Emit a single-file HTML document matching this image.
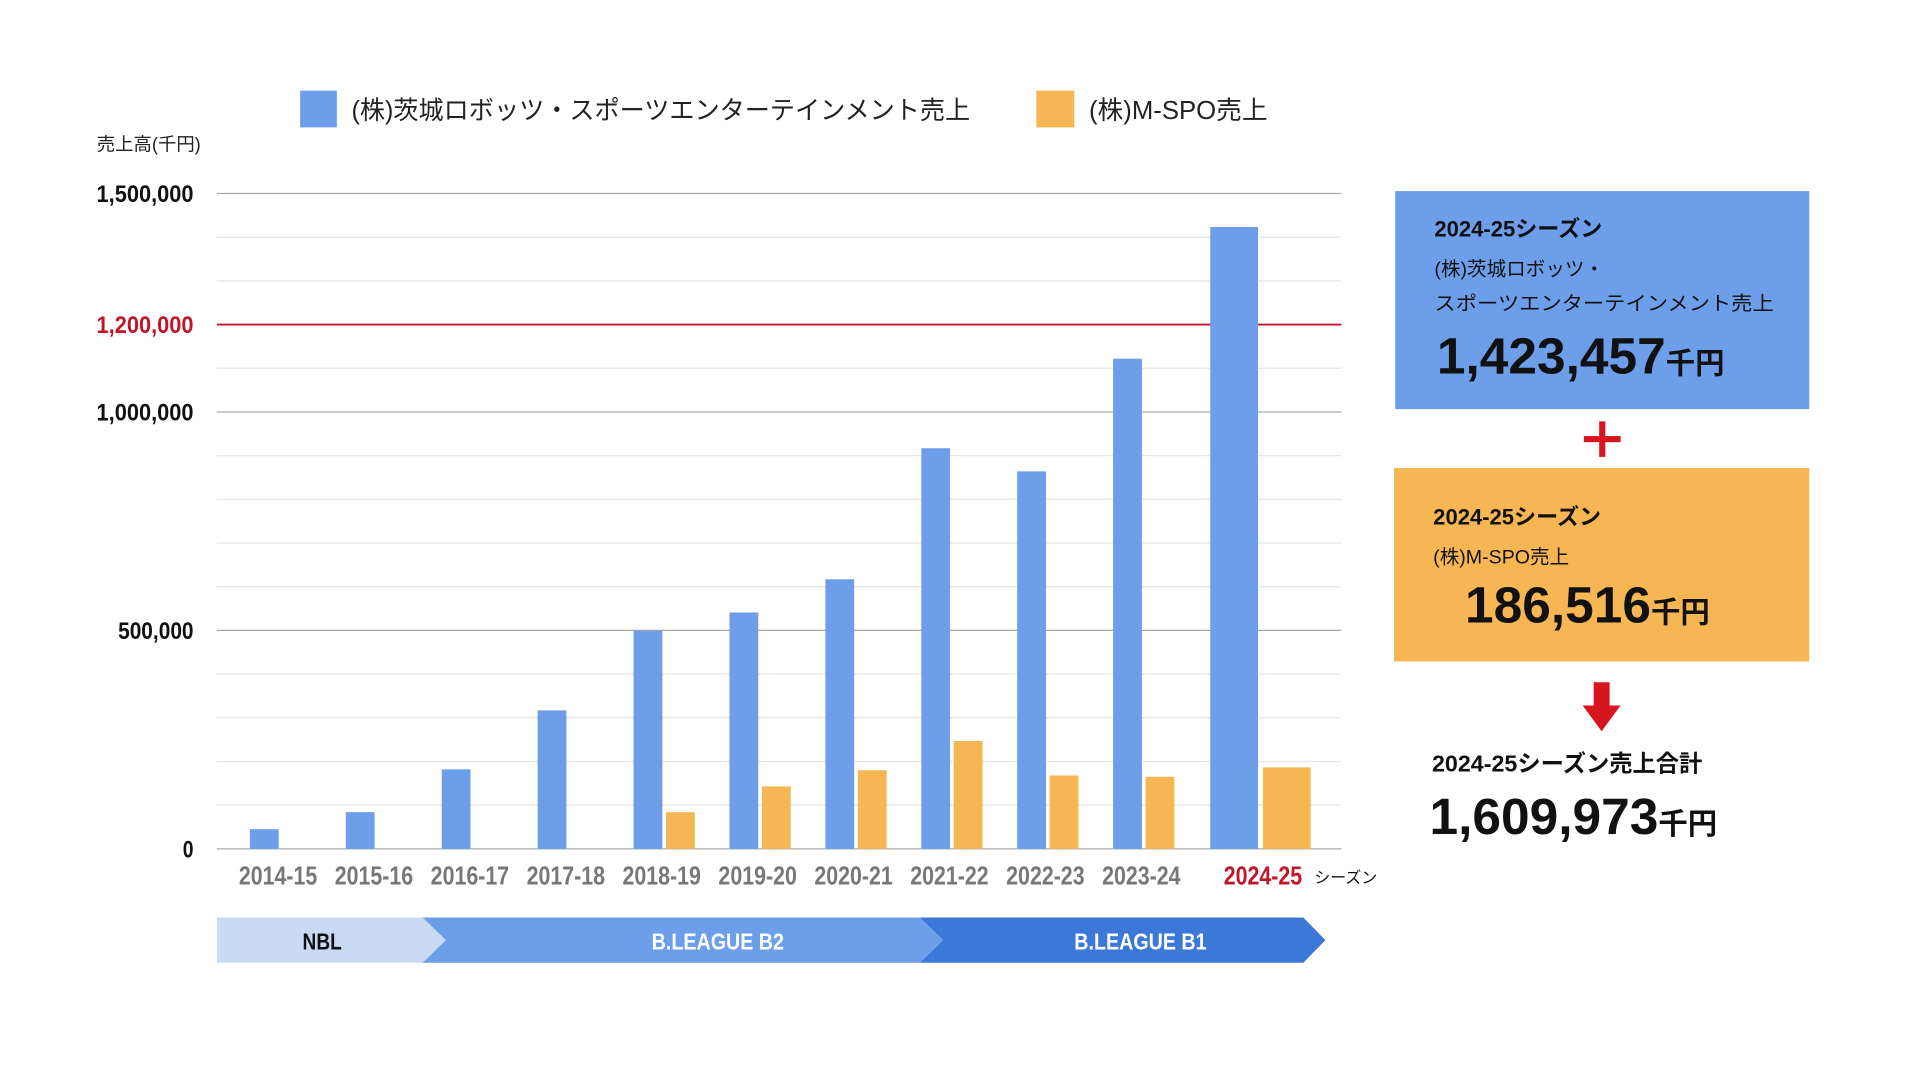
<!DOCTYPE html>
<html><head><meta charset="utf-8">
<style>
html,body{margin:0;padding:0;background:#fff;width:1920px;height:1080px;overflow:hidden}
svg{display:block}
.jp{font-family:"Liberation Sans","Noto Sans CJK JP",sans-serif}
.num{font-family:"Liberation Sans Narrow","Liberation Sans","Noto Sans CJK JP",sans-serif;font-weight:bold}
</style></head>
<body>
<svg id="chart" width="1920" height="1080" viewBox="0 0 1567.4 881.7" preserveAspectRatio="none" xmlns="http://www.w3.org/2000/svg">
<g>
 <rect x="245" y="74" width="30" height="30" fill="#6d9eea"/>
 <text class="jp" x="287" y="97" font-size="21" fill="#222" textLength="505" lengthAdjust="spacingAndGlyphs">(株)茨城ロボッツ・スポーツエンターテインメント売上</text>
 <rect x="846" y="74" width="31" height="30" fill="#f6b654"/>
 <text class="jp" x="889" y="97" font-size="21" fill="#222">(株)M-SPO売上</text>
</g>
<text class="jp" x="79" y="123" font-size="15" fill="#222">売上高(千円)</text>
<g id="grid"></g>
<g id="yticks"></g>
<g id="bars"></g>
<g id="xticks"></g>
<text class="jp" x="1073" y="721" font-size="13" fill="#111">シーズン</text>
<g>
 <polygon points="177,749 345,749 364,767.5 345,786 177,786" fill="#c9daf5"/>
 <polygon points="345,749 751,749 770,767.5 751,786 345,786 364,767.5" fill="#6d9eea"/>
 <polygon points="751,749 1064,749 1082,767.5 1064,786 751,786 770,767.5" fill="#3c78d8"/>
 <text class="num" x="263" y="775" font-size="19" text-anchor="middle" fill="#111" textLength="32" lengthAdjust="spacingAndGlyphs">NBL</text>
 <text class="num" x="586" y="775" font-size="19" text-anchor="middle" fill="#fff" textLength="108" lengthAdjust="spacingAndGlyphs">B.LEAGUE  B2</text>
 <text class="num" x="931" y="775" font-size="19" text-anchor="middle" fill="#fff" textLength="108" lengthAdjust="spacingAndGlyphs">B.LEAGUE  B1</text>
</g>
<g>
 <rect x="1139" y="156" width="338" height="178" fill="#6d9eea"/>
 <text class="jp" x="1171" y="193" font-size="18" font-weight="bold" fill="#111">2024-25シーズン</text>
 <text class="jp" x="1171" y="225" font-size="16" fill="#111">(株)茨城ロボッツ・</text>
 <text class="jp" x="1171" y="253" font-size="16" fill="#111" textLength="277" lengthAdjust="spacingAndGlyphs">スポーツエンターテインメント売上</text>
 <text class="jp" x="1173" y="305" font-size="42" font-weight="bold" fill="#111">1,423,457<tspan font-size="24">千円</tspan></text>
</g>
<g fill="#d7151f">
 <rect x="1293" y="356" width="30" height="5"/><rect x="1305.5" y="344" width="5" height="29"/>
</g>
<g>
 <rect x="1138" y="382" width="339" height="158" fill="#f6b654"/>
 <text class="jp" x="1170" y="428" font-size="18" font-weight="bold" fill="#111">2024-25シーズン</text>
 <text class="jp" x="1170" y="460" font-size="16" fill="#111">(株)M-SPO売上</text>
 <text class="jp" x="1196" y="508" font-size="42" font-weight="bold" fill="#111">186,516<tspan font-size="24">千円</tspan></text>
</g>
<polygon points="1301,557 1314,557 1314,576 1323,576 1307.5,597 1292,576 1301,576" fill="#d7151f"/>
<g>
 <text class="jp" x="1169" y="630" font-size="19" font-weight="bold" fill="#111">2024-25シーズン売上合計</text>
 <text class="jp" x="1167" y="681" font-size="42" font-weight="bold" fill="#111">1,609,973<tspan font-size="24">千円</tspan></text>
</g>
</svg>
<script>
const categories=["2014-15","2015-16","2016-17","2017-18","2018-19","2019-20","2020-21","2021-22","2022-23","2023-24","2024-25"];
const robotsSales=[45000,84000,182000,317000,499000,541000,617000,917000,864000,1122000,1423457];
const mspoSales=[0,0,0,0,84000,143000,180000,247000,168000,165000,186516];
const majorTicks=[0,500000,1000000,1500000];
const majorTickLabels=["0","500,000","1,000,000","1,500,000"];
const minorTicks=[100000,200000,300000,400000,600000,700000,800000,900000,1100000,1300000,1400000];
const refValue=1200000;
const refLabel="1,200,000";

const NS="http://www.w3.org/2000/svg";
const X0=177,X1=1095;
function y(v){return 693-v/1500000*535;}
function xc(i){return i<10?229+i*78.3:1029;}
function bw(i){return i<10?23.5:39;}
function mk(tag,attrs,parent){const e=document.createElementNS(NS,tag);for(const k in attrs)e.setAttribute(k,attrs[k]);parent.appendChild(e);return e;}
const grid=document.getElementById('grid'),yt=document.getElementById('yticks'),bars=document.getElementById('bars'),xt=document.getElementById('xticks');
function ylen(s){return s.length*8.8;}
minorTicks.forEach(v=>{
 const l=mk('line',{x1:X0,x2:X1,y1:y(v),y2:y(v),stroke:'#e6e6e6','stroke-width':1},grid);
 
 
});
majorTicks.forEach((v,i)=>{
 const l=mk('line',{x1:X0,x2:X1,y1:y(v),y2:y(v),stroke:'#a8a8a8','stroke-width':1},grid);
 
 
 const t=mk('text',{x:158,y:y(v)+7,'font-size':20,'text-anchor':'end',fill:'#111',class:'num',textLength:ylen(majorTickLabels[i]),lengthAdjust:'spacingAndGlyphs'},yt);
 t.textContent=majorTickLabels[i];
 
 
});
const rl=mk('line',{x1:X0,x2:X1,y1:y(refValue),y2:y(refValue),stroke:'#c0152a','stroke-width':1.5},grid);


const rt=mk('text',{x:158,y:y(refValue)+7,'font-size':20,'text-anchor':'end',fill:'#c0152a',class:'num',textLength:ylen(refLabel),lengthAdjust:'spacingAndGlyphs'},yt);
rt.textContent=refLabel;


categories.forEach((c,i)=>{
 const w=bw(i),cx=xc(i),g=i<10?1.5:2;
 const b=mk('rect',{x:cx-g-w,y:y(robotsSales[i]),width:w,height:693-y(robotsSales[i]),fill:'#6d9eea'},bars);
 
 
 if(mspoSales[i]>0){
  const o=mk('rect',{x:cx+g,y:y(mspoSales[i]),width:w,height:693-y(mspoSales[i]),fill:'#f6b654'},bars);
  
  
 }
 const t=mk('text',{x:i<10?cx-2:cx+2,y:722,'font-size':21,'text-anchor':'middle',fill:i<10?'#777':'#c0152a',class:'num',textLength:64,lengthAdjust:'spacingAndGlyphs'},xt);
 t.textContent=c;
 
 
});
</script>
</body></html>
